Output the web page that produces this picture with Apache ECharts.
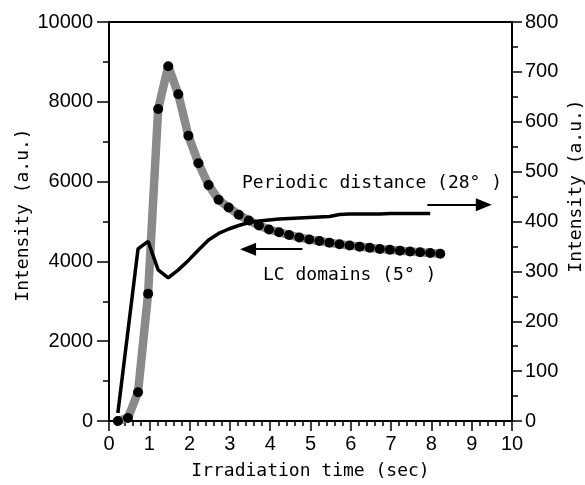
<!DOCTYPE html>
<html>
<head>
<meta charset="utf-8">
<script src="https://cdn.jsdelivr.net/npm/echarts@6/dist/echarts.min.js"></script>
<style>html,body{margin:0;padding:0;background:#fff}#c{width:585px;height:485px}</style>
</head>
<body>
<div id="c"></div>
<script>
// LC domains (5°), left axis
const lcTime = [0.22,0.47,0.72,0.97,1.22,1.47,1.72,1.97,2.22,2.47,2.72,2.97,3.22,3.47,3.72,3.97,4.22,4.47,4.72,4.97,5.22,5.47,5.72,5.97,6.22,6.47,6.72,6.97,7.22,7.47,7.72,7.97,8.22];
const lcIntensity = [0,75,720,3190,7820,8890,8190,7150,6460,5915,5545,5350,5170,5025,4900,4800,4730,4660,4600,4550,4510,4470,4430,4400,4370,4340,4310,4290,4270,4250,4230,4210,4190];
// Periodic distance (28°), right axis
const pdTime = [0.22,0.72,0.97,1.22,1.47,1.72,1.97,2.22,2.47,2.72,2.97,3.22,3.47,3.72,3.97,4.22,4.47,4.72,4.97,5.22,5.47,5.72,5.97,6.22,6.47,6.72,6.97,7.22,7.47,7.72,7.97];
const pdIntensity = [16,345,360,303,287,303,322,343,363,376,385,392,398,401,403,405,406,407,408,409,410,414,415,415,415,415,416,416,416,416,416];
const xTicks = [0,1,2,3,4,5,6,7,8,9,10];
const leftTicks = [0,2000,4000,6000,8000,10000];
const rightTicks = [0,100,200,300,400,500,600,700,800];
// annotation arrows (data coords, left axis units)
const arrowPD = [[7.9,5420],[9.3,5420]];
const arrowLC = [[4.8,4306],[3.45,4306]];

const tickFont = '"Liberation Sans", Arial, sans-serif';
const monoFont = '"DejaVu Sans Mono", "Liberation Mono", monospace';

const chart = echarts.init(document.getElementById('c'), null, {renderer:'canvas'});
chart.setOption({
  backgroundColor:'#fff',
  animation:false,
  grid:{left:109,right:73,top:22,bottom:59,show:true,borderColor:'#000',borderWidth:2,backgroundColor:'transparent'},
  xAxis:{
    type:'value',min:xTicks[0],max:xTicks[xTicks.length-1],interval:1,
    name:'Irradiation time (sec)',nameLocation:'middle',nameGap:41,
    nameTextStyle:{fontFamily:monoFont,fontSize:18,color:'#000'},
    axisLine:{show:true,lineStyle:{color:'#000',width:2}},
    axisTick:{show:true,inside:false,length:10,lineStyle:{color:'#000',width:1.5}},
    minorTick:{show:true,splitNumber:5,length:5,lineStyle:{color:'#000',width:1.5}},
    splitLine:{show:false},
    axisLabel:{margin:13,fontFamily:tickFont,fontSize:20,color:'#000',formatter:v=>String(v)}
  },
  yAxis:[{
    type:'value',min:leftTicks[0],max:leftTicks[leftTicks.length-1],interval:2000,position:'left',
    axisLine:{show:true,lineStyle:{color:'#000',width:2}},
    axisTick:{show:true,inside:false,length:12,lineStyle:{color:'#000',width:1.5}},
    minorTick:{show:true,splitNumber:2,length:6,lineStyle:{color:'#000',width:1.5}},
    splitLine:{show:false},
    axisLabel:{margin:16,fontFamily:tickFont,fontSize:20,color:'#000',formatter:v=>String(v)}
  },{
    type:'value',min:rightTicks[0],max:rightTicks[rightTicks.length-1],interval:100,position:'right',
    axisLine:{show:true,lineStyle:{color:'#000',width:2}},
    axisTick:{show:true,inside:false,length:10,lineStyle:{color:'#000',width:1.5}},
    minorTick:{show:true,splitNumber:2,length:6,lineStyle:{color:'#000',width:1.5}},
    splitLine:{show:false},
    axisLabel:{margin:13,fontFamily:tickFont,fontSize:20,color:'#000',formatter:v=>String(v)}
  }],
  series:[{
    name:'LC domains (5°)',type:'line',yAxisIndex:0,
    data:lcTime.map((t,i)=>[t,lcIntensity[i]]),
    symbol:'circle',symbolSize:10,showAllSymbol:true,
    lineStyle:{color:'#8a8a8a',width:8.5},
    itemStyle:{color:'#000',borderWidth:0},
    z:2,
    markLine:{
      silent:true,symbol:['none','triangle'],symbolSize:[13,16],
      label:{show:false},
      lineStyle:{color:'#000',width:2,type:'solid'},
      data:[
        [{coord:arrowPD[0]},{coord:arrowPD[1]}],
        [{coord:arrowLC[0]},{coord:arrowLC[1]}]
      ]
    }
  },{
    name:'Periodic distance (28°)',type:'line',yAxisIndex:1,
    data:pdTime.map((t,i)=>[t,pdIntensity[i]]),
    symbol:'none',
    lineStyle:{color:'#000',width:3.5},
    z:3
  }],
  graphic:[
    {type:'text',left:242,top:174,style:{text:'Periodic distance (28° )',fontFamily:monoFont,fontSize:18,fill:'#000'}},
    {type:'text',left:263,top:266,style:{text:'LC domains (5° )',fontFamily:monoFont,fontSize:18,fill:'#000'}},
    {type:'text',x:23,y:215,rotation:Math.PI/2,style:{text:'Intensity (a.u.)',fontFamily:monoFont,fontSize:18,fill:'#000',align:'center',verticalAlign:'middle'}},
    {type:'text',x:576,y:186,rotation:Math.PI/2,style:{text:'Intensity (a.u.)',fontFamily:monoFont,fontSize:18,fill:'#000',align:'center',verticalAlign:'middle'}}
  ]
});
</script>
</body>
</html>
